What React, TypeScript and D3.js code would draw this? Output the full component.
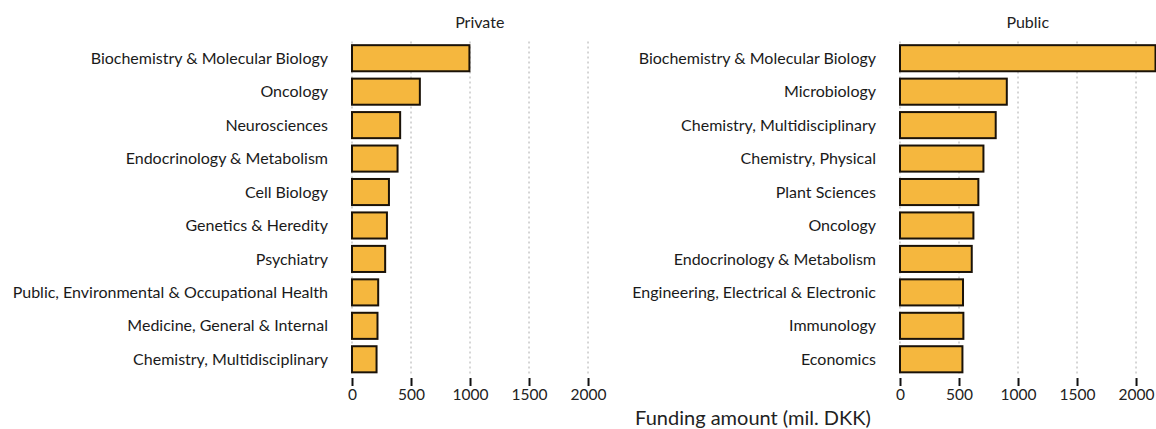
import React, { useRef, useEffect } from "react";
import * as d3 from "d3";

// private funders, top 10 fields
const privateFields = [
  "Biochemistry & Molecular Biology",
  "Oncology",
  "Neurosciences",
  "Endocrinology & Metabolism",
  "Cell Biology",
  "Genetics & Heredity",
  "Psychiatry",
  "Public, Environmental & Occupational Health",
  "Medicine, General & Internal",
  "Chemistry, Multidisciplinary",
];
const privateFunding = [995, 575, 408, 386, 313, 296, 281, 222, 216, 208];

// public funders, top 10 fields
const publicFields = [
  "Biochemistry & Molecular Biology",
  "Microbiology",
  "Chemistry, Multidisciplinary",
  "Chemistry, Physical",
  "Plant Sciences",
  "Oncology",
  "Endocrinology & Metabolism",
  "Engineering, Electrical & Electronic",
  "Immunology",
  "Economics",
];
const publicFunding = [2165, 905, 811, 707, 664, 622, 608, 534, 537, 529];

const xTicks = [0, 500, 1000, 1500, 2000];
const panelTitles = ["Private", "Public"];
const xAxisTitle = "Funding amount (mil. DKK)";

const App: React.FC = () => {
  const ref = useRef<SVGSVGElement | null>(null);

  useEffect(() => {
    if (!ref.current) return;
    const svg = d3.select(ref.current);
    svg.selectAll("*").remove();

    const width = 1156;
    const height = 429;
    const font = "Lato, 'Open Sans', sans-serif";
    svg.attr("width", width).attr("height", height).attr("viewBox", `0 0 ${width} ${height}`);

    const panelTop = 41.5;
    const panelBottom = 376;
    const panelLefts = [352, 900];
    const xMax = 2165;
    const panelWidth = 255.5;

    const panels = [
      { title: panelTitles[0], fields: privateFields, values: privateFunding },
      { title: panelTitles[1], fields: publicFields, values: publicFunding },
    ];

    panels.forEach((p, i) => {
      const left = panelLefts[i];
      const x = d3.scaleLinear().domain([0, xMax]).range([left, left + panelWidth]);
      const y = d3
        .scaleBand<string>()
        .domain(p.fields)
        .range([panelTop, panelBottom])
        .paddingInner(0.22)
        .paddingOuter(0.11);

      const g = svg.append("g");

      // dotted grid
      g.selectAll("line.grid")
        .data(xTicks)
        .join("line")
        .attr("class", "grid")
        .attr("x1", (d) => x(d))
        .attr("x2", (d) => x(d))
        .attr("y1", panelTop)
        .attr("y2", panelBottom)
        .attr("stroke", "#c8c8c8")
        .attr("stroke-width", 1.5)
        .attr("stroke-dasharray", "2,3");

      // bars
      g.selectAll("rect")
        .data(p.values)
        .join("rect")
        .attr("x", x(0))
        .attr("y", (_, j) => y(p.fields[j]) as number)
        .attr("width", (d) => x(d) - x(0))
        .attr("height", y.bandwidth())
        .attr("fill", "#F5B73E")
        .attr("stroke", "#1a1208")
        .attr("stroke-width", 2);

      // category labels
      g.selectAll("text.cat")
        .data(p.fields)
        .join("text")
        .attr("class", "cat")
        .attr("x", left - 24)
        .attr("y", (d) => (y(d) as number) + y.bandwidth() / 2)
        .attr("dy", "0.35em")
        .attr("text-anchor", "end")
        .attr("font-family", font)
        .attr("font-size", 16)
        .attr("fill", "#1a1a1a")
        .text((d) => d);

      // x axis
      const axis = g
        .append("g")
        .attr("transform", `translate(0,${panelBottom + 2})`)
        .call(d3.axisBottom(x).tickValues(xTicks).tickSize(8).tickPadding(3).tickFormat(d3.format("d")));
      axis.select(".domain").remove();
      axis.selectAll(".tick line").attr("stroke", "#111").attr("stroke-width", 2);
      axis
        .selectAll(".tick text")
        .attr("font-family", font)
        .attr("font-size", 15.5)
        .attr("fill", "#222");

      // facet title
      g.append("text")
        .attr("x", left + panelWidth / 2)
        .attr("y", 22)
        .attr("dy", "0.35em")
        .attr("text-anchor", "middle")
        .attr("font-family", font)
        .attr("font-size", 16)
        .attr("fill", "#222")
        .text(p.title);
    });

    svg
      .append("text")
      .attr("x", 753)
      .attr("y", 418)
      .attr("dy", "0.35em")
      .attr("text-anchor", "middle")
      .attr("font-family", font)
      .attr("font-size", 20)
      .attr("fill", "#222")
      .text(xAxisTitle);
  }, []);

  return (
    <div style={{ position: "absolute", left: 0, top: 0, background: "#fff" }}>
      <svg ref={ref} style={{ display: "block" }} />
    </div>
  );
};

export default App;
